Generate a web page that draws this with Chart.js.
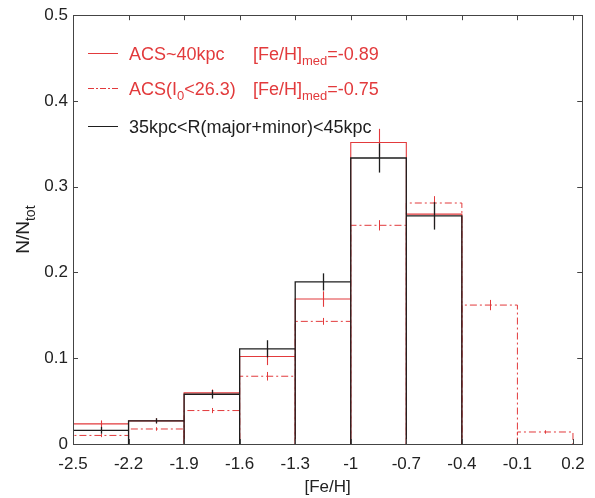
<!DOCTYPE html>
<html>
<head>
<meta charset="utf-8">
<script src="https://cdn.jsdelivr.net/npm/chart.js@4.4.1/dist/chart.umd.min.js"></script>
<style>
html,body{margin:0;padding:0;background:#fff;}
#c{display:block;}
</style>
</head>
<body>
<canvas id="c" width="595" height="498"></canvas>
<script>
// ---- data ----
const binEdges = [-2.5, -2.2, -1.9, -1.6, -1.3, -1.0, -0.7, -0.4, -0.1, 0.2];
const xTickValues = [-2.5, -2.2, -1.9, -1.6, -1.3, -1.0, -0.7, -0.4, -0.1, 0.2];
const xTickLabels = ['-2.5', '-2.2', '-1.9', '-1.6', '-1.3', '-1', '-0.7', '-0.4', '-0.1', '0.2'];
const yTickValues = [0, 0.1, 0.2, 0.3, 0.4, 0.5];
const yTickLabels = ['0', '0.1', '0.2', '0.3', '0.4', '0.5'];

const acs40Values = [0.0235, 0.027, 0.0596, 0.102, 0.169, 0.3515, 0.268];
const acs40Errors = [0.004, 0.003, 0.004, 0.010, 0.009, 0.016, 0.015];
const acsI0Values = [0.010, 0.0175, 0.039, 0.079, 0.143, 0.255, 0.281, 0.162, 0.014];
const acsI0Errors = [0.002, 0.002, 0.003, 0.005, 0.004, 0.006, 0.008, 0.006, 0.002];
const ringValues = [0.016, 0.027, 0.058, 0.111, 0.189, 0.3335, 0.266];
const ringErrors = [0.004, 0.003, 0.005, 0.010, 0.010, 0.017, 0.016];

const xTitle = '[Fe/H]';
const yTitleMain = 'N/N';
const yTitleSub = 'tot';
const medians = ['-0.89', '-0.75'];

const RED = '#e23a3c';
const BLACK = '#1e1e1e';
const FONT = "'Liberation Sans', Arial, sans-serif";

function outline(values) {
  const pts = [];
  values.forEach((v, i) => {
    const x0 = binEdges[i], x1 = binEdges[i + 1];
    pts.push({x: x0, y: 0}, {x: x0, y: v}, {x: x1, y: v}, {x: x1, y: 0});
  });
  return pts;
}

const series = [
  {label: 'ring', values: ringValues, errors: ringErrors, color: BLACK, dash: [], width: 1.3, order: 0},
  {label: 'acs40', values: acs40Values, errors: acs40Errors, color: RED, dash: [], width: 1.1, order: 1},
  {label: 'acsI0', values: acsI0Values, errors: acsI0Errors, color: RED, dash: [7, 3, 2, 3], width: 1, order: 2}
];

const frameTicks = {
  id: 'frameTicks',
  afterDatasetsDraw(chart) {
    const {ctx, chartArea: a, scales} = chart;
    ctx.save();
    // error bars
    series.slice().reverse().forEach(s => {
      ctx.strokeStyle = s.color;
      ctx.lineWidth = s.width;
      ctx.setLineDash([]);
      s.values.forEach((v, i) => {
        const xc = scales.x.getPixelForValue((binEdges[i] + binEdges[i + 1]) / 2);
        const y0 = scales.y.getPixelForValue(v - s.errors[i]);
        const y1 = scales.y.getPixelForValue(v + s.errors[i]);
        ctx.beginPath();
        ctx.moveTo(Math.round(xc) + 0.5, y0);
        ctx.lineTo(Math.round(xc) + 0.5, y1);
        ctx.stroke();
      });
    });
    // frame
    ctx.strokeStyle = '#444';
    ctx.lineWidth = 1;
    ctx.strokeRect(Math.round(a.left) + 0.5, Math.round(a.top) + 0.5, Math.round(a.right - a.left), Math.round(a.bottom - a.top));
    // inward ticks
    const L = 5;
    xTickValues.forEach(v => {
      const x = Math.round(scales.x.getPixelForValue(v)) + 0.5;
      ctx.beginPath();
      ctx.moveTo(x, a.bottom); ctx.lineTo(x, a.bottom - L);
      ctx.moveTo(x, a.top); ctx.lineTo(x, a.top + L);
      ctx.stroke();
    });
    yTickValues.forEach(v => {
      const y = Math.round(scales.y.getPixelForValue(v)) + 0.5;
      ctx.beginPath();
      ctx.moveTo(a.left, y); ctx.lineTo(a.left + L, y);
      ctx.moveTo(a.right, y); ctx.lineTo(a.right - L, y);
      ctx.stroke();
    });
    ctx.restore();
  },
  afterDraw(chart) {
    const {ctx, chartArea: a} = chart;
    ctx.save();
    // y title
    const tBig = '19px ' + FONT, tSmall = '14px ' + FONT;
    ctx.font = tBig; const w1 = ctx.measureText(yTitleMain).width;
    ctx.font = tSmall; const w2 = ctx.measureText(yTitleSub).width;
    ctx.translate(24, (a.top + a.bottom) / 2);
    ctx.rotate(-Math.PI / 2);
    ctx.fillStyle = '#222';
    ctx.textBaseline = 'middle';
    ctx.textAlign = 'left';
    ctx.font = tBig; ctx.fillText(yTitleMain, -(w1 + w2) / 2, 0);
    ctx.font = tSmall; ctx.fillText(yTitleSub, -(w1 + w2) / 2 + w1, 7);
    ctx.restore();

    // legend
    const big = '18px ' + FONT, small = '13px ' + FONT;
    const rows = [
      {segs: [{t: 'ACS~40kpc'}], color: RED, dash: [], y: 53, med: medians[0]},
      {segs: [{t: 'ACS(I'}, {t: '0', sub: true}, {t: '<26.3)'}], color: RED, dash: [6, 2, 2, 2], y: 88, med: medians[1]},
      {segs: [{t: '35kpc<R(major+minor)<45kpc'}], color: BLACK, dash: [], y: 126}
    ];
    ctx.save();
    ctx.textBaseline = 'middle';
    ctx.textAlign = 'left';
    rows.forEach(r => {
      ctx.strokeStyle = r.color;
      ctx.lineWidth = 1;
      ctx.setLineDash(r.dash);
      ctx.beginPath();
      ctx.moveTo(88, r.y + 0.5); ctx.lineTo(118, r.y + 0.5);
      ctx.stroke();
      ctx.setLineDash([]);
      ctx.fillStyle = r.color;
      let x = 129;
      const ty = r.y + 2;
      r.segs.forEach(s => {
        ctx.font = s.sub ? small : big;
        ctx.fillText(s.t, x, s.sub ? ty + 6 : ty);
        x += ctx.measureText(s.t).width;
      });
      if (r.med) {
        let mx = 253;
        ctx.font = big; ctx.fillText('[Fe/H]', mx, ty); mx += ctx.measureText('[Fe/H]').width;
        ctx.font = small; ctx.fillText('med', mx, ty + 6); mx += ctx.measureText('med').width;
        ctx.font = big; ctx.fillText('=' + r.med, mx, ty);
      }
    });
    ctx.restore();
  }
};

new Chart(document.getElementById('c'), {
  type: 'line',
  data: {
    datasets: series.map(s => ({
      label: s.label,
      data: outline(s.values),
      borderColor: s.color,
      borderWidth: s.width,
      borderDash: s.dash,
      pointRadius: 0,
      tension: 0,
      fill: false,
      order: s.order
    }))
  },
  options: {
    responsive: false,
    devicePixelRatio: 1,
    animation: false,
    events: [],
    layout: {padding: {top: 11, right: 12, left: 0, bottom: 0}},
    plugins: {legend: {display: false}, tooltip: {enabled: false}},
    scales: {
      x: {
        type: 'linear',
        min: -2.5,
        max: 0.25,
        afterBuildTicks(scale) { scale.ticks = xTickValues.map(v => ({value: v})); },
        afterFit(scale) { scale.height = 54; },
        grid: {display: false, drawTicks: false},
        border: {display: false},
        ticks: {
          autoSkip: false, maxRotation: 0, padding: 10,
          color: '#222', font: {family: FONT, size: 17},
          callback: (v, i) => xTickLabels[i]
        },
        title: {display: true, text: xTitle, color: '#222', font: {family: FONT, size: 17}, padding: {top: 0, bottom: 0}}
      },
      y: {
        type: 'linear',
        min: 0,
        max: 0.5,
        afterBuildTicks(scale) { scale.ticks = yTickValues.map(v => ({value: v})); },
        afterFit(scale) { scale.width = 73; },
        grid: {display: false, drawTicks: false},
        border: {display: false},
        ticks: {
          padding: 5,
          color: '#222', font: {family: FONT, size: 17},
          callback: (v, i) => yTickLabels[i]
        }
      }
    }
  },
  plugins: [frameTicks]
});
</script>
</body>
</html>
